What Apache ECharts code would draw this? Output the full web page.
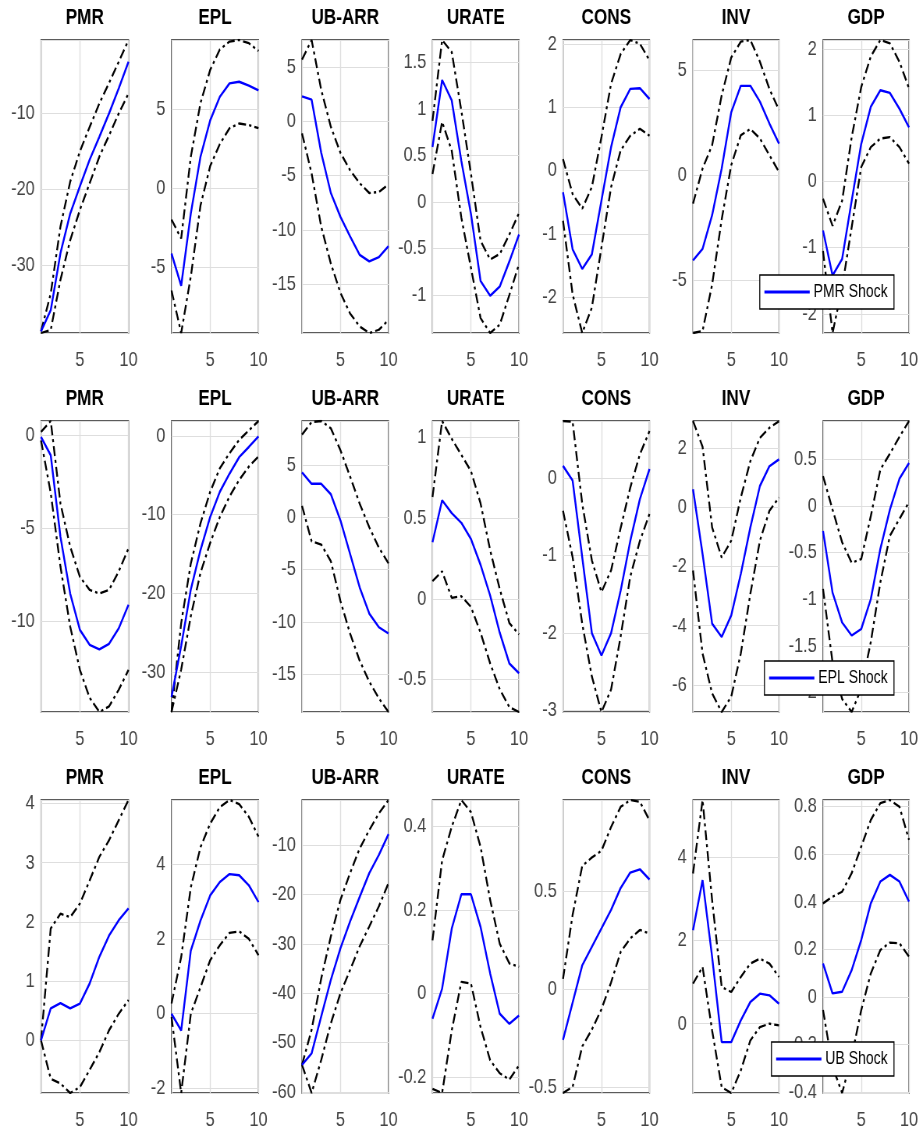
<!DOCTYPE html>
<html>
<head>
<meta charset="utf-8">
<script src="https://cdn.jsdelivr.net/npm/echarts@6/dist/echarts.min.js"></script>
<style>
  html, body { margin: 0; padding: 0; background: #fff; overflow: hidden; width: 923px; height: 1135px; }
  /* the source figure is squeezed sideways, so draw wider and compress */
  #main { width: 1183px; height: 1135px; transform: scaleX(0.7802); transform-origin: 0 0; }
</style>
</head>
<body>
<div id="main"></div>
<script>
var variables = ['PMR', 'EPL', 'UB-ARR', 'URATE', 'CONS', 'INV', 'GDP'];
var shocks = ['PMR Shock', 'EPL Shock', 'UB Shock'];
var horizon = [1, 2, 3, 4, 5, 6, 7, 8, 9, 10];

// row 1 - PMR shock (one array per variable)
var pmrMedian = [
  [-38.7, -35.9, -28.4, -23.2, -19.6, -16.1, -13.1, -10.0, -6.7, -3.2],
  [-4.15, -6.2, -1.6, 2.0, 4.3, 5.8, 6.65, 6.75, 6.5, 6.2],
  [2.3, 2.0, -2.9, -6.6, -8.8, -10.6, -12.3, -12.9, -12.5, -11.5],
  [0.59, 1.31, 1.09, 0.44, -0.13, -0.85, -1.01, -0.91, -0.64, -0.35],
  [-0.34, -1.24, -1.55, -1.32, -0.47, 0.37, 1.0, 1.29, 1.3, 1.13],
  [-4.05, -3.5, -1.9, 0.32, 3.0, 4.25, 4.25, 3.5, 2.46, 1.5],
  [-0.74, -1.42, -1.17, -0.29, 0.57, 1.13, 1.38, 1.34, 1.1, 0.82]
];
var pmrUpper = [
  [-38.7, -33.7, -24.9, -19.0, -15.0, -11.8, -8.7, -6.0, -3.2, -0.35],
  [-2.0, -3.2, 2.0, 5.4, 7.5, 8.8, 9.3, 9.4, 9.2, 8.7],
  [5.7, 7.5, 2.9, -0.5, -2.9, -4.5, -5.7, -6.6, -6.5, -5.8],
  [0.87, 1.74, 1.61, 0.98, 0.3, -0.42, -0.62, -0.56, -0.35, -0.12],
  [0.18, -0.37, -0.6, -0.26, 0.53, 1.37, 1.84, 2.06, 2.0, 1.74],
  [-1.35, 0.32, 1.43, 3.8, 5.6, 6.35, 6.43, 5.4, 4.1, 3.1],
  [-0.26, -0.67, -0.29, 0.67, 1.43, 1.89, 2.14, 2.09, 1.81, 1.41]
];
var pmrLower = [
  [-38.9, -38.5, -31.9, -26.7, -22.7, -19.2, -15.7, -12.9, -10.0, -7.4],
  [-6.5, -9.2, -5.6, -1.1, 1.4, 2.8, 3.8, 4.1, 4.0, 3.8],
  [-1.1, -4.8, -9.7, -13.1, -15.8, -17.7, -18.9, -19.5, -19.2, -18.3],
  [0.3, 0.86, 0.55, -0.17, -0.71, -1.25, -1.41, -1.32, -1.0, -0.67],
  [-0.79, -1.95, -2.56, -2.16, -1.21, -0.26, 0.32, 0.55, 0.66, 0.55],
  [-7.5, -7.4, -5.2, -2.1, 0.48, 1.9, 2.2, 1.75, 0.95, 0.16],
  [-1.05, -2.29, -1.6, -0.69, 0.22, 0.52, 0.65, 0.67, 0.52, 0.27]
];

// row 2 - EPL shock
var eplMedian = [
  [-0.09, -1.07, -5.45, -8.5, -10.45, -11.25, -11.5, -11.2, -10.36, -9.1],
  [-33.2, -26.7, -19.5, -14.5, -10.3, -7.1, -4.8, -2.7, -1.4, -0.05],
  [4.3, 3.2, 3.2, 2.2, -0.3, -3.5, -6.7, -9.2, -10.5, -11.1],
  [0.35, 0.61, 0.53, 0.47, 0.37, 0.21, 0.02, -0.21, -0.4, -0.46],
  [0.16, -0.03, -1.02, -2.0, -2.29, -2.0, -1.45, -0.81, -0.27, 0.12],
  [0.62, -1.57, -3.93, -4.38, -3.65, -2.25, -0.67, 0.73, 1.4, 1.63],
  [-0.27, -0.93, -1.25, -1.39, -1.32, -1.0, -0.46, -0.04, 0.29, 0.46]
];
var eplUpper = [
  [0.18, 0.77, -3.66, -5.98, -7.6, -8.3, -8.5, -8.3, -7.3, -6.07],
  [-35.1, -23.8, -16.2, -11.1, -7.1, -4.1, -2.2, -0.5, 0.7, 1.9],
  [7.9, 9.1, 9.2, 8.5, 6.4, 3.9, 1.3, -0.95, -2.9, -4.4],
  [0.63, 1.1, 0.99, 0.89, 0.79, 0.59, 0.3, 0.06, -0.15, -0.22],
  [0.74, 0.73, -0.33, -1.06, -1.47, -1.19, -0.64, -0.12, 0.31, 0.61],
  [2.93, 2.06, -0.67, -1.69, -1.12, 0.34, 1.57, 2.36, 2.7, 2.92],
  [0.32, -0.04, -0.39, -0.61, -0.57, -0.11, 0.39, 0.56, 0.74, 0.91]
];
var eplLower = [
  [-0.27, -3.1, -7.05, -10.27, -12.6, -14.1, -14.86, -14.56, -13.66, -12.6],
  [-35.1, -29.7, -22.9, -17.4, -13.6, -10.3, -7.7, -5.6, -3.9, -2.6],
  [1.1, -2.3, -2.6, -4.2, -8.0, -11.1, -13.7, -15.7, -17.3, -18.6],
  [0.11, 0.17, 0.006, 0.016, -0.05, -0.21, -0.4, -0.56, -0.67, -0.7],
  [-0.42, -1.02, -1.88, -2.56, -3.02, -2.73, -2.04, -1.27, -0.81, -0.46],
  [-2.13, -4.94, -6.29, -6.92, -6.4, -4.94, -2.92, -1.12, -0.11, 0.34],
  [-0.89, -1.68, -2.07, -2.21, -1.96, -1.46, -0.82, -0.32, -0.14, 0.04]
];

// row 3 - UB shock
var ubMedian = [
  [0, 0.54, 0.63, 0.54, 0.62, 0.96, 1.41, 1.77, 2.03, 2.23],
  [0, -0.45, 1.69, 2.49, 3.16, 3.52, 3.73, 3.7, 3.43, 2.98],
  [-54.5, -52.2, -44.7, -37.3, -30.9, -25.5, -20.5, -15.7, -12.0, -7.8],
  [-0.06, 0.012, 0.155, 0.237, 0.237, 0.159, 0.048, -0.048, -0.072, -0.052],
  [-0.259, -0.069, 0.121, 0.216, 0.31, 0.405, 0.517, 0.595, 0.612, 0.56],
  [2.24, 3.44, 1.6, -0.44, -0.44, 0.08, 0.52, 0.72, 0.68, 0.48],
  [0.14, 0.014, 0.021, 0.112, 0.239, 0.393, 0.485, 0.513, 0.485, 0.4]
];
var ubUpper = [
  [0, 1.89, 2.14, 2.08, 2.31, 2.7, 3.1, 3.38, 3.72, 4.06],
  [0.27, 1.51, 3.38, 4.45, 5.08, 5.52, 5.71, 5.6, 5.26, 4.73],
  [-54.5, -47.4, -37.0, -28.5, -21.1, -15.7, -10.7, -7.0, -3.6, -0.9],
  [0.127, 0.318, 0.398, 0.462, 0.433, 0.35, 0.223, 0.119, 0.072, 0.064],
  [0.052, 0.379, 0.629, 0.672, 0.707, 0.828, 0.931, 0.966, 0.957, 0.862],
  [3.6, 5.36, 2.96, 0.88, 0.76, 1.12, 1.44, 1.56, 1.44, 1.12],
  [0.393, 0.421, 0.442, 0.52, 0.632, 0.744, 0.815, 0.828, 0.8, 0.66]
];
var ubLower = [
  [0, -0.65, -0.73, -0.89, -0.79, -0.5, -0.2, 0.17, 0.45, 0.68],
  [-0.09, -2.12, 0, 0.71, 1.43, 1.83, 2.16, 2.2, 2.0, 1.56],
  [-54.5, -60.2, -53.5, -46.1, -40.0, -35.3, -30.5, -26.5, -22.4, -17.7],
  [-0.227, -0.237, -0.088, 0.028, 0.024, -0.08, -0.159, -0.19, -0.205, -0.171],
  [-0.531, -0.5, -0.293, -0.207, -0.103, 0.034, 0.19, 0.259, 0.302, 0.284],
  [0.96, 1.36, -0.16, -1.52, -1.66, -1.12, -0.4, -0.08, 0, -0.04],
  [-0.056, -0.295, -0.405, -0.253, -0.056, 0.098, 0.197, 0.228, 0.225, 0.169]
];

// y tick step of every panel, row by row
var pmrTicks = [10, 5, 5, 0.5, 1, 5, 1];
var eplTicks = [5, 10, 5, 0.5, 1, 2, 0.5];
var ubTicks = [1, 2, 10, 0.2, 0.5, 2, 0.2];

var rows = [
  {med: pmrMedian, up: pmrUpper, lo: pmrLower, ticks: pmrTicks},
  {med: eplMedian, up: eplUpper, lo: eplLower, ticks: eplTicks},
  {med: ubMedian, up: ubUpper, lo: ubLower, ticks: ubTicks}
];

var FONT = "'Liberation Sans', Arial, sans-serif";
var SX = 0.7802; // horizontal squeeze applied by css

// panel geometry in screen px, divided by SX for the wide canvas
var colLeft = [41, 171.5, 302, 432.5, 563, 693, 823];
var colWidth = [87.5, 87, 86.5, 86.5, 86.5, 86, 86];
var rowTop = [40, 421, 800];
var rowHeight = [293, 291, 293];
var titleY = [18, 399, 778];
var legendTop = [275, 661, 1042];

var chart = echarts.init(document.getElementById('main'));

var grids = [], xAxes = [], yAxes = [], series = [], graphics = [], legends = [];

function pairs(arr) {
  return arr.map(function (v, i) { return [horizon[i], v]; });
}

function fmt(v) {
  return String(+v.toFixed(4));
}

rows.forEach(function (row, r) {
  variables.forEach(function (name, c) {
    var k = grids.length;
    var lo = Math.min.apply(null, row.lo[c].concat(row.med[c], row.up[c]));
    var hi = Math.max.apply(null, row.up[c].concat(row.med[c], row.lo[c]));
    var step = row.ticks[c];

    grids.push({
      left: colLeft[c] / SX, top: rowTop[r], width: colWidth[c] / SX, height: rowHeight[r],
      show: true, borderColor: '#262626', borderWidth: 1.3, containLabel: false
    });
    xAxes.push({
      gridIndex: k, type: 'value', min: 1, max: 10,
      minInterval: 5, maxInterval: 5,
      axisLine: {show: false}, axisTick: {show: false},
      axisLabel: {showMinLabel: false, fontSize: 21, color: '#444', fontFamily: FONT, margin: 17, formatter: fmt},
      splitLine: {show: true, lineStyle: {color: '#dedede', width: 1.3}}
    });
    yAxes.push({
      gridIndex: k, type: 'value', min: lo, max: hi,
      minInterval: step, maxInterval: step,
      axisLine: {show: false}, axisTick: {show: false},
      axisLabel: {showMinLabel: false, showMaxLabel: false, fontSize: 21, color: '#444', fontFamily: FONT, margin: 8, formatter: fmt},
      splitLine: {show: true, lineStyle: {color: '#dedede', width: 1}}
    });

    var dash = {color: '#000', width: 2.3, type: [10, 4, 3, 4]};
    series.push({
      type: 'line', name: 'upper', xAxisIndex: k, yAxisIndex: k,
      data: pairs(row.up[c]), symbol: 'none', lineStyle: dash, itemStyle: {color: '#000'}, z: 3
    });
    series.push({
      type: 'line', name: 'lower', xAxisIndex: k, yAxisIndex: k,
      data: pairs(row.lo[c]), symbol: 'none', lineStyle: dash, itemStyle: {color: '#000'}, z: 3
    });
    series.push({
      type: 'line', name: shocks[r], xAxisIndex: k, yAxisIndex: k,
      data: pairs(row.med[c]), symbol: 'none',
      lineStyle: {color: '#0000ff', width: 2.4}, itemStyle: {color: '#0000ff'}, z: 4
    });

    graphics.push({
      type: 'text', x: (colLeft[c] + colWidth[c] / 2) / SX, y: titleY[r],
      style: {text: name, fill: '#000', font: 'bold 22px ' + FONT, align: 'center', verticalAlign: 'middle'}
    });
  });

  legends.push({
    data: [shocks[r]], right: 29 / SX, top: legendTop[r],
    icon: 'rect', itemWidth: 58, itemHeight: 3, itemGap: 0,
    backgroundColor: '#fff', borderColor: '#000', borderWidth: 1.3, borderRadius: 0,
    padding: [8, 8, 8, 6], selectedMode: false, z: 10,
    textStyle: {fontSize: 18, color: '#000', fontFamily: FONT}
  });
});

chart.setOption({
  animation: false,
  backgroundColor: '#fff',
  grid: grids,
  xAxis: xAxes,
  yAxis: yAxes,
  legend: legends,
  series: series,
  graphic: graphics
});
</script>
</body>
</html>
